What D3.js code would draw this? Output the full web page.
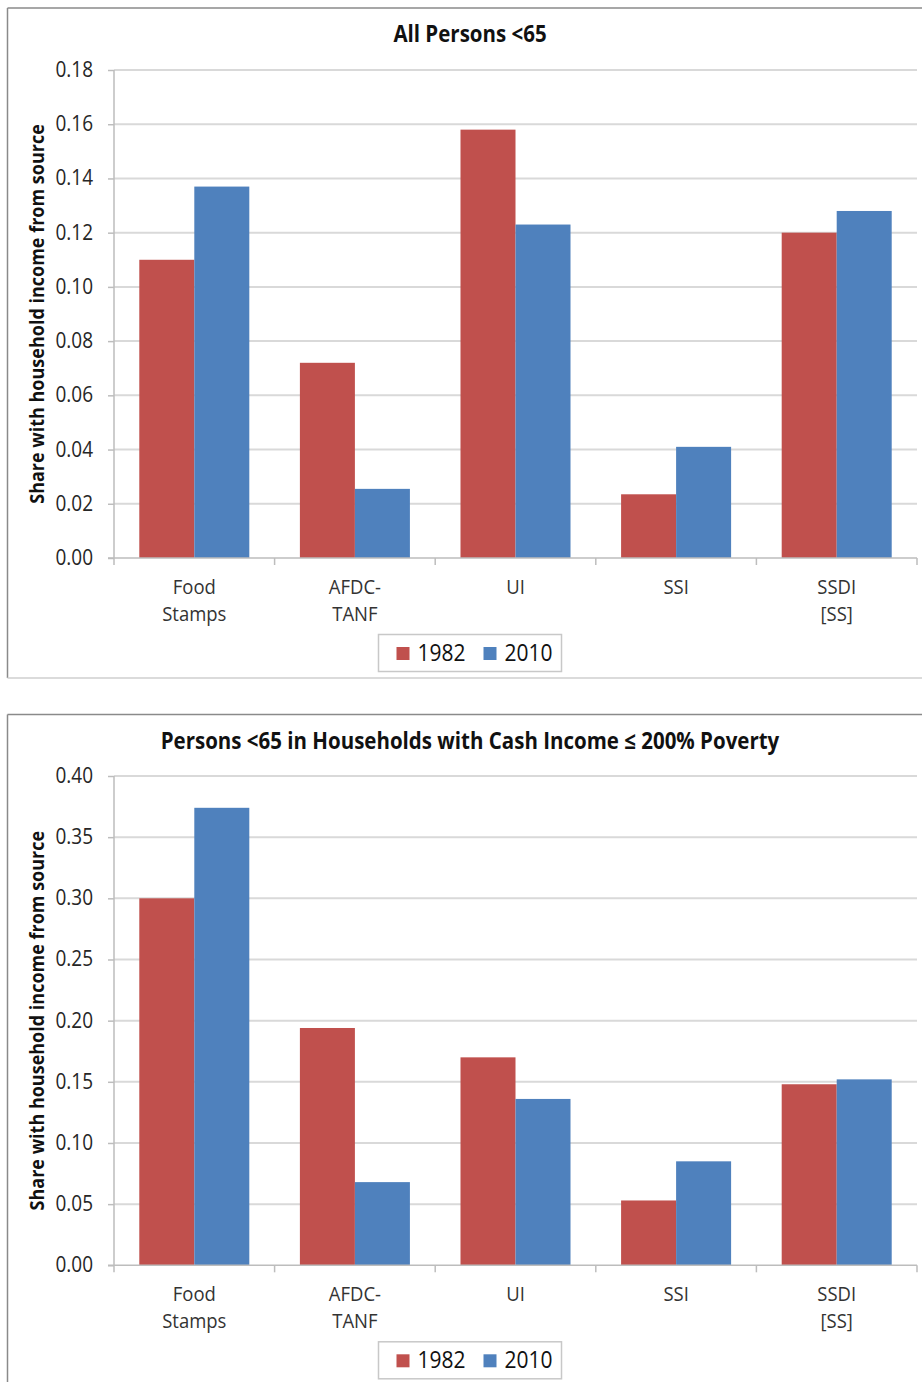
<!DOCTYPE html>
<html>
<head>
<meta charset="utf-8">
<script src="https://cdn.jsdelivr.net/npm/d3@7"></script>
<style>
  html, body { margin: 0; padding: 0; background: #fff; }
  svg { display: block; }
  text { font-family: "Open Sans", "Noto Sans", sans-serif; }
</style>
</head>
<body>
<svg id="chart" width="922" height="1382"></svg>
<script>
// Income sources and survey years
const categories = [["Food", "Stamps"], ["AFDC-", "TANF"], ["UI"], ["SSI"], ["SSDI", "[SS]"]];
const seriesNames = ["1982", "2010"];
const seriesColors = ["#C0504D", "#4F81BD"];

// Share of all persons under 65 with household income from each source
const allPersons1982 = [0.110, 0.072, 0.158, 0.0235, 0.120];
const allPersons2010 = [0.137, 0.0255, 0.123, 0.041, 0.128];

// Share of persons under 65 at or below 200% of poverty
const lowIncome1982 = [0.300, 0.194, 0.170, 0.053, 0.148];
const lowIncome2010 = [0.374, 0.068, 0.136, 0.085, 0.152];

const topTicks = [0, 0.02, 0.04, 0.06, 0.08, 0.10, 0.12, 0.14, 0.16, 0.18];
const bottomTicks = [0, 0.05, 0.10, 0.15, 0.20, 0.25, 0.30, 0.35, 0.40];

const yLabel = "Share with household income from source";

// glyphs are drawn slightly taller than wide, like a narrow UI face
const STRETCH = 1.12;

const svg = d3.select("#chart");

function drawPanel(opts) {
  const g = svg.append("g").attr("transform", `translate(0,${opts.top})`);
  const plotLeft = 114, plotRight = 917;
  const plotTop = opts.plotTop, plotBottom = opts.plotBottom;

  // panel frame
  g.append("line").attr("x1", 7.5).attr("x2", 940).attr("y1", 0.5).attr("y2", 0.5)
    .attr("stroke", "#8a8a8a").attr("stroke-width", 1.5);
  g.append("line").attr("x1", 7.5).attr("x2", 7.5).attr("y1", 0.5).attr("y2", opts.frameHeight)
    .attr("stroke", "#8a8a8a").attr("stroke-width", 1.5);
  if (opts.frameBottom) {
    g.append("line").attr("x1", 7.5).attr("x2", 940).attr("y1", opts.frameHeight).attr("y2", opts.frameHeight)
      .attr("stroke", "#cfcfcf").attr("stroke-width", 1.5);
  }

  // title
  g.append("text")
    .attr("transform", `translate(470,34.5) scale(1,${STRETCH})`)
    .attr("text-anchor", "middle").attr("font-weight", "bold")
    .attr("font-size", opts.titleSize).attr("fill", "#111")
    .text(opts.title);

  const y = d3.scaleLinear().domain([0, opts.yMax]).range([plotBottom, plotTop]);
  const x0 = d3.scaleBand().domain(d3.range(categories.length))
    .range([plotLeft, plotRight]).paddingInner(0.315).paddingOuter(0.1575);
  const x1 = d3.scaleBand().domain(seriesNames).range([0, x0.bandwidth()]).padding(0);

  // gridlines
  g.append("g").selectAll("line").data(opts.ticks.filter(t => t > 0)).join("line")
    .attr("x1", plotLeft).attr("x2", plotRight)
    .attr("y1", d => y(d)).attr("y2", d => y(d))
    .attr("stroke", "#d9d9d9").attr("stroke-width", 2);

  // y axis
  const yAxis = g.append("g").attr("transform", `translate(${plotLeft},0)`)
    .call(d3.axisLeft(y).tickValues(opts.ticks).tickFormat(d3.format(".2f")).tickSize(6).tickPadding(15));
  yAxis.select(".domain").attr("stroke", "#bdbdbd").attr("stroke-width", 1.5)
    .attr("d", `M0,${plotTop}V${plotBottom + 7}`);
  yAxis.selectAll(".tick line").attr("stroke", "#bdbdbd").attr("stroke-width", 1.5);
  yAxis.selectAll(".tick text")
    .attr("x", null).attr("dy", null)
    .attr("transform", `translate(-21,6.5) scale(1,${STRETCH})`)
    .attr("font-size", 19).attr("fill", "#262626")
    .attr("font-family", "'Open Sans', sans-serif");

  // bars
  const values = [opts.a, opts.b];
  const groups = g.append("g").selectAll("g").data(categories.map((c, i) => i)).join("g")
    .attr("transform", i => `translate(${x0(i)},0)`);
  groups.selectAll("rect")
    .data(i => seriesNames.map((s, k) => ({ s, k, v: values[k][i] })))
    .join("rect")
    .attr("x", d => x1(d.s)).attr("width", x1.bandwidth())
    .attr("y", d => y(d.v)).attr("height", d => plotBottom - y(d.v))
    .attr("fill", d => seriesColors[d.k]);

  // x axis line and category boundary ticks
  g.append("line").attr("x1", plotLeft - 6).attr("x2", plotRight)
    .attr("y1", plotBottom).attr("y2", plotBottom)
    .attr("stroke", "#bdbdbd").attr("stroke-width", 1.5);
  const step = x0.step();
  g.append("g").selectAll("line").data(d3.range(1, categories.length + 1)).join("line")
    .attr("x1", i => plotLeft + i * step).attr("x2", i => plotLeft + i * step)
    .attr("y1", plotBottom).attr("y2", plotBottom + 7)
    .attr("stroke", "#bdbdbd").attr("stroke-width", 1.5);

  // category labels
  const labels = g.append("g").selectAll("text").data(categories).join("text")
    .attr("transform", (c, i) => `translate(${x0(i) + x0.bandwidth() / 2},${plotBottom + 36}) scale(1,${STRETCH})`)
    .attr("text-anchor", "middle").attr("font-size", 18.5).attr("fill", "#333");
  labels.selectAll("tspan").data(c => c).join("tspan")
    .attr("x", 0)
    .attr("dy", (d, j) => j === 0 ? 0 : 27 / STRETCH)
    .text(d => d);

  // y axis title
  g.append("text")
    .attr("transform", `translate(44,${(plotTop + plotBottom) / 2}) rotate(-90) scale(1,${STRETCH})`)
    .attr("text-anchor", "middle").attr("font-weight", "bold")
    .attr("font-size", 18).attr("fill", "#111")
    .text(yLabel);

  // legend
  const lg = g.append("g").attr("transform", `translate(378.5,${plotBottom + 76.5})`);
  lg.append("rect").attr("width", 183).attr("height", 37)
    .attr("fill", "#fff").attr("stroke", "#c8c8c8").attr("stroke-width", 1.5);
  const items = [{ x: 18, tx: 39 }, { x: 105, tx: 126 }];
  seriesNames.forEach((s, k) => {
    lg.append("rect").attr("x", items[k].x).attr("y", 12.5).attr("width", 13).attr("height", 13)
      .attr("fill", seriesColors[k]);
    lg.append("text")
      .attr("transform", `translate(${items[k].tx},26.5) scale(1,${STRETCH})`)
      .attr("font-size", 21).attr("fill", "#111").text(s);
  });
}

drawPanel({
  top: 7.5, plotTop: 62.5, plotBottom: 550.5, frameHeight: 670.5, frameBottom: true,
  title: "All Persons <65", titleSize: 20.5, yMax: 0.18, ticks: topTicks,
  a: allPersons1982, b: allPersons2010
});

drawPanel({
  top: 714, plotTop: 62, plotBottom: 551.3, frameHeight: 700, frameBottom: false,
  title: "Persons <65 in Households with Cash Income \u2264 200% Poverty", titleSize: 20.5, yMax: 0.40, ticks: bottomTicks,
  a: lowIncome1982, b: lowIncome2010
});
</script>
</body>
</html>
